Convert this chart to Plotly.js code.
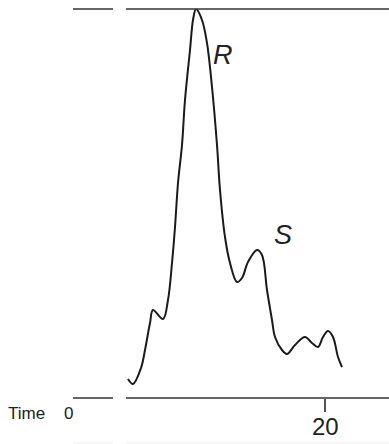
<!DOCTYPE html>
<html>
<head>
<meta charset="utf-8">
<script src="https://cdn.plot.ly/plotly-3.0.1.min.js"></script>
<style>html,body{margin:0;padding:0;background:#fff;}#chart{width:389px;height:444px;}</style>
</head>
<body>
<div id="chart"></div>
<script>
// Time (minutes) and detector response (arbitrary units)
const time = [4.24, 4.64, 5.28, 5.6, 6.0, 6.24, 7.04, 7.44, 7.76, 8.0, 8.24, 8.56, 8.8, 9.2, 9.44, 9.68,
  10.16, 10.56, 10.96, 11.36, 11.6, 12.0, 12.4, 12.96, 13.36, 13.84, 14.56, 14.96, 15.36, 15.76, 16.0,
  16.56, 16.96, 17.6, 18.4, 18.96, 19.44, 19.84, 20.24, 20.64, 21.04, 21.36];
const signal = [19, 14, 30, 48, 75, 88, 79, 98, 135, 171, 215, 253, 298, 348, 378, 389,
  378, 355, 311, 253, 208, 161, 135, 116, 120, 136, 148, 143, 108, 78, 61,
  48, 44, 53, 61, 55, 51, 61, 67, 61, 41, 31];
const tickValues = [20];
const tickLabels = ['20'];
const peakNames = ['R', 'S'];
const peakTimes = [10.84, 15.76];
const peakLabelY = [343, 163];

const xRange = [-0.16, 25.12];
const yRange = [0, 389];
const breakLeft = 3.04, breakRight = 4.08;
const FONT = 'Liberation Sans, Arial, sans-serif';

const lineStyle = {color: '#333', width: 1.3};
const shapes = [];
[1, 0].forEach(yy => {
  shapes.push({type: 'line', xref: 'x', yref: 'paper', x0: xRange[0], x1: breakLeft, y0: yy, y1: yy, line: lineStyle});
  shapes.push({type: 'line', xref: 'x', yref: 'paper', x0: breakRight, x1: xRange[1], y0: yy, y1: yy, line: lineStyle});
});
// faint lines at the very bottom
shapes.push({type: 'line', xref: 'x', yref: 'paper', x0: xRange[0], x1: breakLeft, y0: -0.1155, y1: -0.1155, line: {color: '#eeeeee', width: 1}});
shapes.push({type: 'line', xref: 'x', yref: 'paper', x0: breakRight, x1: xRange[1], y0: -0.1155, y1: -0.1155, line: {color: '#eeeeee', width: 1}});

const annotations = peakNames.map((n, i) => ({
  x: peakTimes[i], y: peakLabelY[i], xref: 'x', yref: 'y', text: n, showarrow: false,
  xanchor: 'left', yanchor: 'middle',
  font: {family: FONT, size: 27, color: '#222', style: 'italic'}
}));
tickValues.forEach((v, i) => annotations.push({
  x: v, xref: 'x', yref: 'paper', y: -0.072, text: tickLabels[i], showarrow: false,
  xanchor: 'center', yanchor: 'middle', font: {family: FONT, size: 24, color: '#222'}
}));
annotations.push({xref: 'paper', yref: 'paper', x: -0.146, y: -0.039, text: 'Time', showarrow: false,
  xanchor: 'center', yanchor: 'middle', font: {family: FONT, size: 17, color: '#222'}});
annotations.push({xref: 'paper', yref: 'paper', x: -0.013, y: -0.039, text: '0', showarrow: false,
  xanchor: 'center', yanchor: 'middle', font: {family: FONT, size: 17, color: '#222'}});

const data = [{
  x: time, y: signal, type: 'scatter', mode: 'lines',
  line: {color: '#1a1a1a', width: 2, shape: 'spline', smoothing: 1},
  hoverinfo: 'skip'
}];

const layout = {
  width: 389, height: 444,
  margin: {l: 73, r: 0, t: 9, b: 46},
  paper_bgcolor: '#fff', plot_bgcolor: '#fff',
  showlegend: false,
  xaxis: {range: xRange, showgrid: false, zeroline: false, showline: false,
    tickmode: 'array', tickvals: tickValues, showticklabels: false,
    ticks: 'outside', ticklen: 13, tickwidth: 1.3, tickcolor: '#555'},
  yaxis: {range: yRange, showgrid: false, zeroline: false, showline: false, showticklabels: false, ticks: ''},
  shapes: shapes,
  annotations: annotations
};

Plotly.newPlot('chart', data, layout, {staticPlot: true, displayModeBar: false});
</script>
</body>
</html>
